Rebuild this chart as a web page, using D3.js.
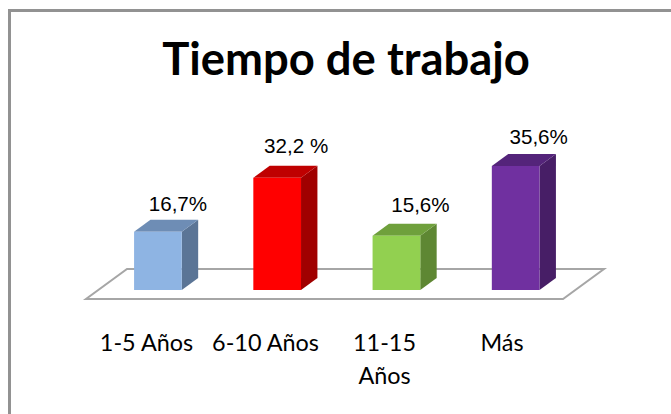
<!DOCTYPE html>
<html>
<head>
<meta charset="utf-8">
<script src="https://cdnjs.cloudflare.com/ajax/libs/d3/7.8.5/d3.min.js"></script>
<style>
html, body { margin: 0; padding: 0; background: #fff; }
svg { display: block; }
</style>
</head>
<body>
<svg id="vis" width="671" height="414"></svg>
<script>
const categories = ["1-5 Años", "6-10 Años", "11-15 Años", "Más"];
const values = [16.7, 32.2, 15.6, 35.6];
const valueLabels = ["16,7%", "32,2 %", "15,6%", "35,6%"];
const frontColors = ["#8eb4e3", "#ff0000", "#92d050", "#7030a0"];
const topColors = ["#6e8db5", "#bf0000", "#6fa03c", "#54247a"];
const sideColors = ["#5b7596", "#a00000", "#5e8733", "#471e66"];
const categoryLines = [["1-5 Años"], ["6-10 Años"], ["11-15", "Años"], ["Más"]];

const svg = d3.select("svg#vis");

// chart border
svg.append("path")
    .attr("d", "M9.5,414V10.5H671")
    .attr("fill", "none")
    .attr("stroke", "#929292")
    .attr("stroke-width", 3);

svg.append("text")
    .attr("x", 346)
    .attr("y", 75)
    .attr("text-anchor", "middle")
    .style("font-family", "Lato, sans-serif")
    .style("font-weight", "700")
    .style("font-size", "45.4px")
    .attr("fill", "#000")
    .text("Tiempo de trabajo");

// oblique floor, depth goes up and to the right
const floorY = 299;
const depth = { x: 41, y: -30 };
const x = d3.scaleBand().domain(categories).range([86, 563]).paddingInner(0.6).paddingOuter(0.3);
const y = d3.scaleLinear().domain([0, 35.6]).range([0, 124]);

const pt = (px, py, t) => [px + depth.x * t, py + depth.y * t];
const poly = pts => d3.line()(pts) + "Z";

svg.append("path")
    .attr("d", poly([pt(86, floorY, 0), pt(563, floorY, 0), pt(563, floorY, 1), pt(86, floorY, 1)]))
    .attr("fill", "#fff")
    .attr("stroke", "#a6a6a6")
    .attr("stroke-width", 2);

// value labels were hand placed in the original, so they need a nudge each
const labelDx = [20, 19, 24, 23];
const labelDy = [21, 25, 24, 22];

const bars = svg.append("g").selectAll("g")
    .data(categories)
    .enter()
    .append("g");

bars.each(function(d, i) {
    const g = d3.select(this);
    const x0 = x(d), x1 = x(d) + x.bandwidth();
    const h = y(values[i]);
    const t0 = 0.3, t1 = 0.7;
    g.append("path")
        .attr("d", poly([pt(x1, floorY, t0), pt(x1, floorY, t1), pt(x1, floorY - h, t1), pt(x1, floorY - h, t0)]))
        .attr("fill", sideColors[i]);
    g.append("path")
        .attr("d", poly([pt(x0, floorY - h, t0), pt(x1, floorY - h, t0), pt(x1, floorY - h, t1), pt(x0, floorY - h, t1)]))
        .attr("fill", topColors[i]);
    g.append("path")
        .attr("d", poly([pt(x0, floorY, t0), pt(x1, floorY, t0), pt(x1, floorY - h, t0), pt(x0, floorY - h, t0)]))
        .attr("fill", frontColors[i]);
    g.append("text")
        .attr("x", pt(x0 + x.bandwidth() / 2, 0, t0)[0] + labelDx[i])
        .attr("y", pt(0, floorY - h, t0)[1] - labelDy[i])
        .attr("text-anchor", "middle")
        .style("font-family", "'Liberation Sans', Arial, sans-serif")
        .style("font-size", "20.6px")
        .attr("fill", "#000")
        .text(valueLabels[i]);
});

// category labels
const labelX = [146.5, 265.5, 384.5, 502];
const labels = svg.append("g").selectAll("text")
    .data(categories)
    .enter()
    .append("text")
    .attr("text-anchor", "middle")
    .style("font-family", "Lato, sans-serif")
    .style("font-size", "23.4px")
    .attr("fill", "#000");

labels.each(function(d, i) {
    d3.select(this).selectAll("tspan")
        .data(categoryLines[i])
        .enter()
        .append("tspan")
        .attr("x", labelX[i])
        .attr("y", (l, j) => 350.5 + j * 33)
        .text(l => l);
});
</script>
</body>
</html>
